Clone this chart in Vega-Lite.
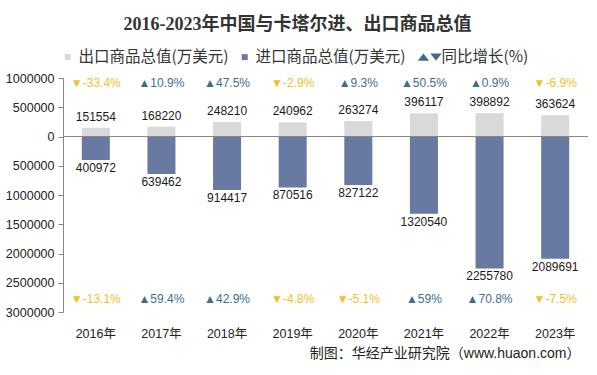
{
  "$schema": "https://vega.github.io/schema/vega-lite/v6.json",
  "width": 525,
  "height": 234,
  "autosize": {"type": "none"},
  "padding": {"left": 63, "top": 78, "right": 9, "bottom": 63},
  "background": "white",
  "config": {
    "view": {"stroke": null},
    "font": "Liberation Sans, DejaVu Sans, Noto Sans CJK SC"
  },
  "title": {
    "text": "2016-2023年中国与卡塔尔进、出口商品总值",
    "font": "Liberation Serif, Noto Sans CJK SC",
    "fontSize": 18,
    "fontWeight": "bold",
    "color": "#333333",
    "anchor": "middle",
    "dx": -28,
    "offset": 15
  },
  "data": {
    "values": [
      {"year": "2016年", "export": 151554, "import": 400972, "eg": -33.4, "ig": -13.1},
      {"year": "2017年", "export": 168220, "import": 639462, "eg": 10.9, "ig": 59.4},
      {"year": "2018年", "export": 248210, "import": 914417, "eg": 47.5, "ig": 42.9},
      {"year": "2019年", "export": 240962, "import": 870516, "eg": -2.9, "ig": -4.8},
      {"year": "2020年", "export": 263274, "import": 827122, "eg": 9.3, "ig": -5.1},
      {"year": "2021年", "export": 396117, "import": 1320540, "eg": 50.5, "ig": 59},
      {"year": "2022年", "export": 398892, "import": 2255780, "eg": 0.9, "ig": 70.8},
      {"year": "2023年", "export": 363624, "import": 2089691, "eg": -6.9, "ig": -7.5}
    ]
  },
  "transform": [
    {"calculate": "-datum['import']", "as": "neg"},
    {"calculate": "(datum.eg >= 0 ? '▲' : '▼') + datum.eg + '%'", "as": "egl"},
    {"calculate": "(datum.ig >= 0 ? '▲' : '▼') + datum.ig + '%'", "as": "igl"}
  ],
  "resolve": {"axis": {"x": "independent", "y": "independent"}},
  "layer": [
    {
      "mark": {"type": "bar", "color": "#d9d9d9"},
      "encoding": {
        "x": {
          "field": "year", "type": "nominal", "sort": null,
          "scale": {"paddingInner": 0.573, "paddingOuter": 0.2865},
          "axis": {
            "orient": "bottom", "domain": false, "ticks": false, "tickSize": 0,
            "labelAngle": 0, "labelPadding": 15, "labelFontSize": 12.5, "labelColor": "#222222",
            "title": "制图：华经产业研究院（www.huaon.com）",
            "titleFont": "Liberation Sans, Noto Sans CJK SC", "titleFontSize": 14, "titleFontWeight": "normal",
            "titleColor": "#222222", "titleAlign": "right", "titleBaseline": "middle",
            "titleX": 517, "titleY": 41
          }
        },
        "y": {
          "field": "export", "type": "quantitative",
          "scale": {"domain": [-3000000, 1000000], "nice": false},
          "axis": {
            "orient": "left",
            "title": null, "grid": false,
            "values": [-3000000, -2500000, -2000000, -1500000, -1000000, -500000, 0, 500000, 1000000],
            "labelExpr": "format(abs(datum.value), 'd')",
            "labelFontSize": 12.5, "labelColor": "#222222", "labelPadding": 4,
            "domain": true, "ticks": true,
            "domainColor": "#868686", "tickColor": "#868686", "tickSize": 5
          }
        },
        "color": {
          "datum": "出口商品总值(万美元)",
          "scale": {
            "domain": ["出口商品总值(万美元)", "进口商品总值(万美元)", "同比增长(%)"],
            "range": ["#d9d9d9", "#687aa1", "#3f6e8a"]
          },
          "legend": {
            "orient": "none", "legendX": -3, "legendY": -29, "direction": "horizontal",
            "title": null, "padding": 0,
            "symbolType": "square", "symbolSize": 36, "symbolStrokeWidth": 0,
            "labelFont": "Noto Sans CJK SC", "labelFontSize": 15.5, "labelColor": "#333333",
            "labelOffset": 3, "columnPadding": 8,
            "encode": {
              "symbols": {
                "update": {
                  "shape": [
                    {"test": "datum.value === '同比增长(%)'", "value": "M-1.34,1.2L0.56,-1.2L2.46,1.2Z M2.86,-1.2L6.66,-1.2L4.76,1.2Z"},
                    {"value": "square"}
                  ],
                  "fill": {"signal": "datum.value === '同比增长(%)' ? {gradient: 'linear', x1: 0, y1: 0, x2: 1, y2: 0, stops: [{offset: 0, color: '#3f6e8a'}, {offset: 0.5, color: '#3f6e8a'}, {offset: 0.5, color: '#f2c02d'}, {offset: 1, color: '#f2c02d'}]} : scale('color', datum.value)"}
                }
              },
              "labels": {
                "update": {
                  "dx": [
                    {"test": "datum.value === '同比增长(%)'", "value": 9},
                    {"value": 0}
                  ]
                }
              }
            }
          }
        }
      }
    },
    {
      "mark": {"type": "bar"},
      "encoding": {
        "x": {"field": "year", "type": "nominal", "sort": null, "axis": null},
        "y": {"field": "neg", "type": "quantitative", "axis": null},
        "color": {"datum": "进口商品总值(万美元)"}
      }
    },
    {
      "mark": {"type": "rule", "color": "#868686", "strokeWidth": 1},
      "encoding": {
        "y": {"datum": 0, "type": "quantitative", "axis": null}
      }
    },
    {
      "mark": {"type": "text", "baseline": "bottom", "dy": -4, "fontSize": 12, "color": "#1a1a1a"},
      "encoding": {
        "x": {"field": "year", "type": "nominal", "sort": null, "axis": null},
        "y": {"field": "export", "type": "quantitative", "axis": null},
        "text": {"field": "export", "type": "quantitative", "format": "d"}
      }
    },
    {
      "mark": {"type": "text", "baseline": "top", "dy": 3, "fontSize": 12, "color": "#1a1a1a"},
      "encoding": {
        "x": {"field": "year", "type": "nominal", "sort": null, "axis": null},
        "y": {"field": "neg", "type": "quantitative", "axis": null},
        "text": {"field": "import", "type": "quantitative", "format": "d"}
      }
    },
    {
      "mark": {"type": "text", "baseline": "middle", "fontSize": 12},
      "encoding": {
        "x": {"field": "year", "type": "nominal", "sort": null, "axis": null},
        "y": {"datum": 910000, "type": "quantitative", "axis": null},
        "text": {"field": "egl", "type": "nominal"},
        "color": {"condition": {"test": "datum.eg < 0", "value": "#f2c02d"}, "value": "#3f6e8a"}
      }
    },
    {
      "mark": {"type": "text", "baseline": "middle", "fontSize": 12},
      "encoding": {
        "x": {"field": "year", "type": "nominal", "sort": null, "axis": null},
        "y": {"datum": -2775000, "type": "quantitative", "axis": null},
        "text": {"field": "igl", "type": "nominal"},
        "color": {"condition": {"test": "datum.ig < 0", "value": "#f2c02d"}, "value": "#3f6e8a"}
      }
    }
  ]
}
